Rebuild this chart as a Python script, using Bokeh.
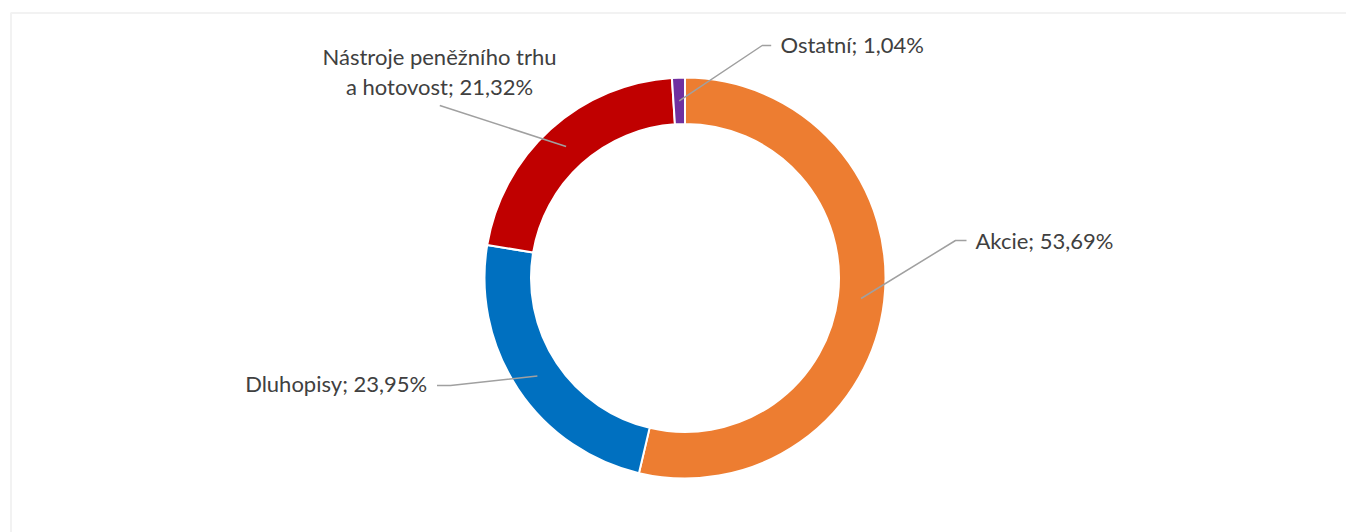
import math
from bokeh.plotting import figure
from bokeh.models import Range1d, BoxAnnotation, ColumnDataSource
from bokeh.core.properties import value
from bokeh.embed import file_html
from bokeh.resources import INLINE

# ---- data ----
categories = ["Akcie", "Dluhopisy", "Nástroje peněžního trhu a hotovost", "Ostatní"]
shares = [53.69, 23.95, 21.32, 1.04]
colors = ["#ED7D31", "#0070C0", "#C00000", "#7030A0"]
label_lines = [["Akcie"], ["Dluhopisy"], ["Nástroje peněžního trhu", "a hotovost"], ["Ostatní"]]

# ---- layout (1 data unit = 1 px, y measured upward from bottom of page) ----
W, H = 1346, 532
CX, CY = 684.5, 254.5
R_IN, R_OUT = 154, 200.5
R_MID = (R_IN + R_OUT) / 2
FONT = "Lato"
FSIZE = "22px"
LINE_GAP = 30
TXT_COL = "#404040"
LEAD_COL = "#A0A0A0"
# leader line bend/end points and label anchor per category
lead_pts = [[(955, 292), (966, 292)], [(450, 147), (436.5, 147)], [(439.3, 427)],
            [(761.7, 487), (770.7, 487)]]
label_anchor = [(975, 292.5, "left"), (426.7, 149.5, "right"), (439, 461.2, "center"), (780, 488, "left")]

p = figure(width=W, height=H, x_range=Range1d(0, W), y_range=Range1d(0, H),
           output_backend="svg", toolbar_location=None, min_border=0)
p.axis.visible = False
p.grid.visible = False
p.outline_line_color = None
p.background_fill_color = "white"
p.border_fill_color = "white"

p.add_layout(BoxAnnotation(left=10.5, right=W + 500, bottom=-500, top=519.5,
                           fill_alpha=0, line_color="#D4D4D4", line_width=2))

total = sum(shares)
starts, ends, mids = [], [], []
cum = 0.0
for s in shares:
    f0 = cum / total
    cum += s
    f1 = cum / total
    starts.append(math.pi / 2 - 2 * math.pi * f0)
    ends.append(math.pi / 2 - 2 * math.pi * f1)
    mids.append(math.pi / 2 - 2 * math.pi * (f0 + f1) / 2)

src = ColumnDataSource(dict(start=starts, end=ends, color=colors))
p.annular_wedge(x=CX, y=CY, inner_radius=R_IN, outer_radius=R_OUT,
                start_angle="start", end_angle="end", direction="clock",
                fill_color="color", line_color="white", line_width=2, source=src)

xs, ys = [], []
for m, pts in zip(mids, lead_pts):
    x0 = CX + R_MID * math.cos(m)
    y0 = CY + R_MID * math.sin(m)
    xs.append([x0] + [q[0] for q in pts])
    ys.append([y0] + [q[1] for q in pts])
p.multi_line(xs=xs, ys=ys, line_color=LEAD_COL, line_width=1.5)

tx, ty, tt, ta = [], [], [], []
for lines, s, (ax, ay, al) in zip(label_lines, shares, label_anchor):
    pct = f"{s:.2f}".replace(".", ",") + "%"
    txt = list(lines)
    txt[-1] = txt[-1] + "; " + pct
    n = len(txt)
    for i, line in enumerate(txt):
        tx.append(ax)
        ty.append(ay + ((n - 1) / 2 - i) * LINE_GAP)
        tt.append(line)
        ta.append(al)
p.text(x="x", y="y", text="t", text_align="a",
       source=ColumnDataSource(dict(x=tx, y=ty, t=tt, a=ta)),
       text_baseline="middle", text_font=value(FONT), text_font_size=FSIZE,
       text_color=TXT_COL)

open("out.html", "w").write(file_html(p, INLINE))
